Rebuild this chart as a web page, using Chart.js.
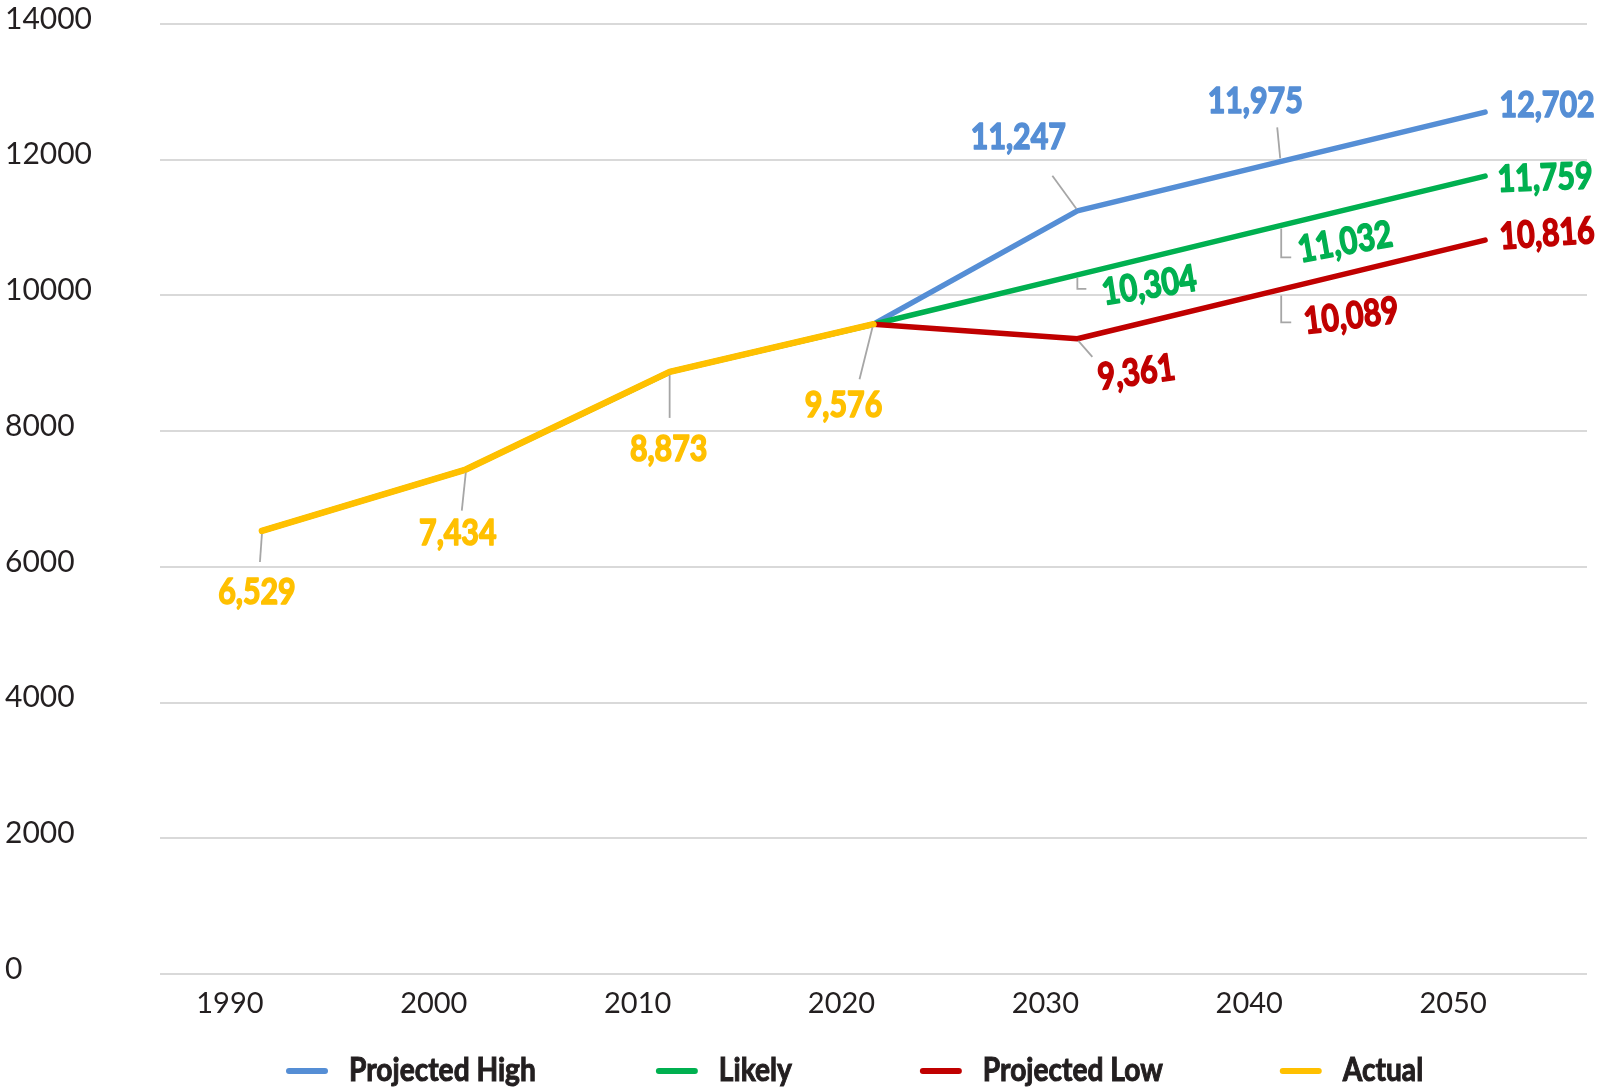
<!DOCTYPE html>
<html lang="en">
<head>
<meta charset="utf-8">
<script src="https://cdn.jsdelivr.net/npm/chart.js"></script>
<style>
  body { margin: 0; background: #fff; }
  canvas { display: block; }
</style>
</head>
<body>
<canvas id="chart" width="1599" height="1090"></canvas>
<script>
// data
const years = ['1990', '2000', '2010', '2020', '2030', '2040', '2050'];
const projectedHigh = [null, null, null, 9576, 11247, 11975, 12702];
const likely = [6529, 7434, 8873, 9576, 10304, 11032, 11759];
const projectedLow = [null, null, null, 9576, 9361, 10089, 10816];
const actual = [6529, 7434, 8873, 9576, null, null, null];

const FONT = 'Lato, sans-serif';
const TEXT = '#231f20';
const SQUEEZE = 0.82; // the original uses a condensed face

// where each value label sits relative to its point (px), tilt, leader polyline
const labelLayout = {
  'Projected High': [null, null, null, null,
    { dx: -59, dy: -74, leader: [[-1, -2], [-25, -35]] },
    { dx: -26, dy: -60, leader: [[-1, -3], [-4, -34]] },
    { dx: 62, dy: -7 }],
  'Likely': [null, null, null, null,
    { dx: 72, dy: 11, rot: -9, leader: [[0, 3], [0, 14], [9, 14]] },
    { dx: 64, dy: 17, rot: -10, leader: [[0, 3], [0, 32], [10, 32]] },
    { dx: 60, dy: 2, rot: -2 }],
  'Projected Low': [null, null, null, null,
    { dx: 59, dy: 34, rot: -8, leader: [[1, 2], [15, 18]] },
    { dx: 70, dy: 27, rot: -7, leader: [[0, 6], [0, 33], [10, 33]] },
    { dx: 62, dy: -6, rot: -4 }],
  'Actual': [
    { dx: -5, dy: 61, leader: [[0, 3], [-2, 31]] },
    { dx: -8, dy: 64, leader: [[0, 3], [-4, 41]] },
    { dx: -1, dy: 77, leader: [[0, 3], [0, 46]] },
    { dx: -30, dy: 81, leader: [[-1, 3], [-14, 55]] },
    null, null, null]
};

const valueLabels = {
  id: 'valueLabels',
  afterDatasetsDraw(chart) {
    const ctx = chart.ctx;
    chart.data.datasets.forEach((ds, di) => {
      const spec = labelLayout[ds.label];
      if (!spec) return;
      const meta = chart.getDatasetMeta(di);
      spec.forEach((s, i) => {
        if (!s || ds.data[i] == null) return;
        const p = meta.data[i];
        ctx.save();
        if (s.leader) {
          ctx.strokeStyle = '#a6a6a6';
          ctx.lineWidth = 1.8;
          ctx.beginPath();
          s.leader.forEach(([lx, ly], k) => {
            if (k === 0) ctx.moveTo(p.x + lx, p.y + ly);
            else ctx.lineTo(p.x + lx, p.y + ly);
          });
          ctx.stroke();
        }
        ctx.translate(p.x + s.dx, p.y + s.dy);
        ctx.rotate((s.rot || 0) * Math.PI / 180);
        ctx.scale(SQUEEZE, 1);
        ctx.font = 'bold 37px ' + FONT;
        ctx.fillStyle = ds.borderColor;
        ctx.strokeStyle = ds.borderColor;
        ctx.lineWidth = 1.6;
        ctx.lineJoin = 'round';
        ctx.textAlign = 'center';
        ctx.textBaseline = 'middle';
        const txt = ds.data[i].toLocaleString('en-US');
        ctx.fillText(txt, 0, 0);
        ctx.strokeText(txt, 0, 0);
        ctx.restore();
      });
    });
  }
};

// legend drawn under the axis, items spaced like the original
const legendGaps = [120, 128, 117];
const bottomLegend = {
  id: 'bottomLegend',
  afterDraw(chart) {
    const ctx = chart.ctx;
    const y = 1071;
    let x = chart.chartArea.left + 126;
    ctx.save();
    ctx.font = 'bold 32px ' + FONT;
    ctx.textBaseline = 'middle';
    ctx.textAlign = 'left';
    chart.data.datasets.forEach((ds, i) => {
      ctx.strokeStyle = ds.borderColor;
      ctx.lineWidth = 6;
      ctx.lineCap = 'round';
      ctx.beginPath();
      ctx.moveTo(x + 3, y);
      ctx.lineTo(x + 39, y);
      ctx.stroke();
      x += 42 + 21;
      ctx.save();
      ctx.translate(x, y);
      ctx.scale(0.88, 1);
      ctx.fillStyle = TEXT;
      ctx.strokeStyle = TEXT;
      ctx.lineWidth = 1;
      ctx.fillText(ds.label, 0, 0);
      ctx.strokeText(ds.label, 0, 0);
      ctx.restore();
      x += ctx.measureText(ds.label).width * 0.88 + (legendGaps[i] || 0);
    });
    ctx.restore();
  }
};

new Chart(document.getElementById('chart'), {
  type: 'line',
  data: {
    labels: years,
    datasets: [
      { label: 'Projected High', data: projectedHigh, borderColor: '#558ED5', borderWidth: 5.5, order: 3 },
      { label: 'Likely', data: likely, borderColor: '#00B050', borderWidth: 5.5, order: 2 },
      { label: 'Projected Low', data: projectedLow, borderColor: '#C00000', borderWidth: 5.5, order: 1 },
      { label: 'Actual', data: actual, borderColor: '#FFC000', borderWidth: 6.5, order: 0 }
    ]
  },
  options: {
    responsive: false,
    animation: false,
    devicePixelRatio: 1,
    spanGaps: false,
    layout: { padding: { left: 5, right: 12, top: 24, bottom: 60 } },
    elements: {
      point: { radius: 0, hoverRadius: 0 },
      line: { tension: 0, borderJoinStyle: 'round', borderCapStyle: 'round', fill: false }
    },
    plugins: {
      legend: { display: false },
      tooltip: { enabled: false }
    },
    scales: {
      x: {
        offset: true,
        grid: { display: false },
        border: { display: false },
        ticks: {
          color: TEXT,
          font: { family: FONT, size: 29 },
          padding: 4,
          labelOffset: -32,
          maxRotation: 0
        },
        afterFit(scale) { scale.height = 56; }
      },
      y: {
        min: 0,
        max: 14000,
        grid: { color: '#d9d9d9', lineWidth: 2, drawTicks: false },
        border: { display: false },
        ticks: {
          stepSize: 2000,
          color: TEXT,
          font: { family: FONT, size: 30 },
          crossAlign: 'far',
          labelOffset: -5,
          padding: 0,
          callback: v => String(v)
        },
        afterFit(scale) { scale.width = 155; }
      }
    }
  },
  plugins: [valueLabels, bottomLegend]
});
</script>
</body>
</html>
